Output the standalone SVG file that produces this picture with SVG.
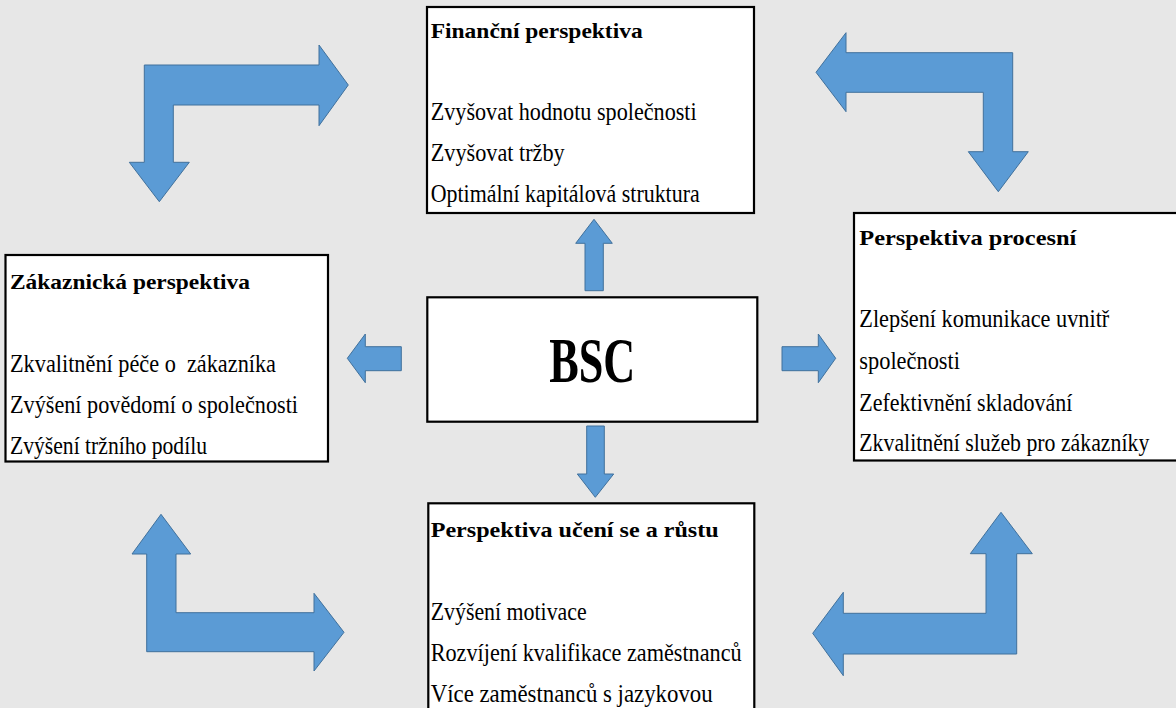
<svg xmlns="http://www.w3.org/2000/svg" width="1176" height="708" viewBox="0 0 1176 708">
  <style>
    .bg { fill: #e7e7e7; }
    .box { fill: #ffffff; stroke: #000000; stroke-width: 2.2; }
    .arrow { fill: #5b9bd5; stroke: #41719c; stroke-width: 1; stroke-linejoin: miter; }
    text { font-family: 'Liberation Serif', serif; fill: #000000; }
    .title { font-weight: bold; font-size: 22px; }
    .item { font-size: 26px; }
    .core { font-weight: bold; font-size: 63px; }
  </style>

  <rect class="bg" x="0" y="0" width="1176" height="708"/>

  <!-- connectors: bent cycle arrows and the four arrows leaving the BSC box -->
  <g id="connectors">
    <path class="arrow" d="M144.3,65 L319,65 L319,45 L348.3,85 L319,125.7 L319,105 L173.3,105 L173.3,162.3 L189.3,162.3 L159.3,201.7 L129.3,162.3 L144.3,162.3 Z"/>
    <path class="arrow" d="M816,72.3 L846,32.7 L846,52.7 L1012.7,52.7 L1012.7,151.7 L1028.3,151.7 L998.3,191.7 L968.3,151.7 L983.3,151.7 L983.3,92.3 L846,92.3 L846,111.7 Z"/>
    <path class="arrow" d="M161,514.3 L190.7,554 L176,554 L176,612.7 L314,612.7 L314,593.3 L344,632.3 L314,671 L314,651.7 L146.7,651.7 L146.7,554 L132,554 Z"/>
    <path class="arrow" d="M1001,512.3 L1032.3,553.7 L1016.7,553.7 L1016.7,654 L843.3,654 L843.3,675.7 L812.7,633.3 L843.3,592.3 L843.3,613.3 L986,613.3 L986,553.7 L970.3,553.7 Z"/>
    <path class="arrow" d="M594,219.3 L612.3,243.3 L603.3,243.3 L603.3,290.7 L585,290.7 L585,243.3 L575.7,243.3 Z"/>
    <path class="arrow" d="M347.3,358.3 L365.3,334 L365.3,346.7 L401.3,346.7 L401.3,370.7 L365.3,370.7 L365.3,382.7 Z"/>
    <path class="arrow" d="M835.7,358.3 L818.3,382.7 L818.3,370.7 L782,370.7 L782,346.7 L818.3,346.7 L818.3,334 Z"/>
    <path class="arrow" d="M595.3,497.3 L577.3,474 L586.7,474 L586.7,426 L604.3,426 L604.3,474 L613.7,474 Z"/>
  </g>

  <g id="financni">
    <rect class="box" x="427" y="7" width="327" height="206"/>
    <text class="title" x="430.7" y="38" textLength="212" lengthAdjust="spacingAndGlyphs">Finanční perspektiva</text>
    <text class="item" x="430.7" y="120" textLength="266" lengthAdjust="spacingAndGlyphs">Zvyšovat hodnotu společnosti</text>
    <text class="item" x="430.7" y="161" textLength="134" lengthAdjust="spacingAndGlyphs">Zvyšovat tržby</text>
    <text class="item" x="430.7" y="202" textLength="269" lengthAdjust="spacingAndGlyphs">Optimální kapitálová struktura</text>
  </g>

  <g id="zakaznicka">
    <rect class="box" x="5.5" y="255" width="322.5" height="206.5"/>
    <text class="title" x="10" y="289" textLength="240" lengthAdjust="spacingAndGlyphs">Zákaznická perspektiva</text>
    <text class="item" x="10" y="371.7" textLength="266" lengthAdjust="spacingAndGlyphs" xml:space="preserve">Zkvalitnění péče o  zákazníka</text>
    <text class="item" x="10" y="412.7" textLength="288" lengthAdjust="spacingAndGlyphs">Zvýšení povědomí o společnosti</text>
    <text class="item" x="10" y="454" textLength="197" lengthAdjust="spacingAndGlyphs">Zvýšení tržního podílu</text>
  </g>

  <g id="bsc">
    <rect class="box" x="427.3" y="297.3" width="330" height="124.4"/>
    <text class="core" x="549.3" y="381.7" textLength="86" lengthAdjust="spacingAndGlyphs">BSC</text>
  </g>

  <g id="procesni">
    <rect class="box" x="854" y="213" width="330" height="247.5"/>
    <text class="title" x="859.3" y="245" textLength="217" lengthAdjust="spacingAndGlyphs">Perspektiva procesní</text>
    <text class="item" x="859.3" y="327.3" textLength="250" lengthAdjust="spacingAndGlyphs">Zlepšení komunikace uvnitř</text>
    <text class="item" x="859.3" y="369" textLength="100.7" lengthAdjust="spacingAndGlyphs">společnosti</text>
    <text class="item" x="859.3" y="410.7" textLength="213" lengthAdjust="spacingAndGlyphs">Zefektivnění skladování</text>
    <text class="item" x="859.3" y="451" textLength="290" lengthAdjust="spacingAndGlyphs">Zkvalitnění služeb pro zákazníky</text>
  </g>

  <g id="uceni">
    <rect class="box" x="428.3" y="503.3" width="326" height="220"/>
    <text class="title" x="430.7" y="537" textLength="288" lengthAdjust="spacingAndGlyphs">Perspektiva učení se a růstu</text>
    <text class="item" x="430.7" y="620" textLength="156" lengthAdjust="spacingAndGlyphs">Zvýšení motivace</text>
    <text class="item" x="430.7" y="661" textLength="311" lengthAdjust="spacingAndGlyphs">Rozvíjení kvalifikace zaměstnanců</text>
    <text class="item" x="430.7" y="702" textLength="282" lengthAdjust="spacingAndGlyphs">Více zaměstnanců s jazykovou</text>
  </g>
</svg>
